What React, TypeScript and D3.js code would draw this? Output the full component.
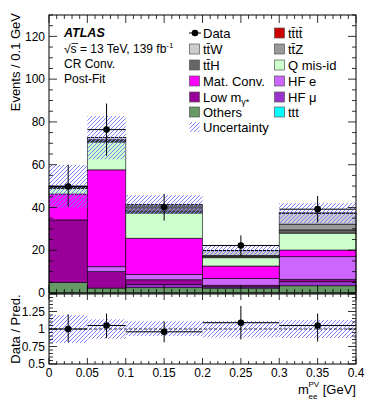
import React from "react";
import * as d3 from "d3";

// bin edges in m_ee^PV [GeV]
const binEdges = [0, 0.05, 0.1, 0.2, 0.3, 0.4];

// stacked backgrounds, events / 0.1 GeV (bottom to top)
const others = [4.9, 2.3, 2.5, 2.3, 3.4];
const hfMu = [0, 0, 1.4, 0.6, 1.9];
const lowMgamma = [29.3, 7.7, 2.3, 0.7, 1.1];
const hfE = [0, 2.3, 2.5, 3.2, 10.6];
const matConv = [12.1, 45.3, 16.9, 5.8, 3.1];
const qMisId = [2.5, 13.0, 11.8, 3.9, 7.9];
const ttH = [0.5, 0.6, 1.0, 0.6, 1.5];
const ttZ = [0.4, 0.5, 1.0, 0.5, 2.7];
const ttW = [0.3, 1.0, 1.8, 2.2, 5.1];
const tttt = [0.02, 0.03, 0.05, 0.05, 0.1];
const ttt = [0, 0, 0.01, 0.01, 0.02];

// relative uncertainty of the prediction
const uncRel = [0.2, 0.14, 0.11, 0.12, 0.13];

// data
const dataValues = [49.8, 76.4, 40.2, 22.2, 39.2];
const dataHigh = [60.0, 88.6, 46.4, 26.9, 45.4];
const dataLow = [40.3, 64.2, 33.9, 17.3, 33.0];

// ratio panel
const ratioValues = [1.0, 1.05, 0.96, 1.09, 1.05];
const ratioHigh = [1.21, 1.22, 1.11, 1.33, 1.22];
const ratioLow = [0.81, 0.87, 0.81, 0.85, 0.82];

const layers = [
  { key: "others", values: others, color: "#669966" },
  { key: "hfMu", values: hfMu, color: "#9933cc" },
  { key: "lowMgamma", values: lowMgamma, color: "#990099" },
  { key: "hfE", values: hfE, color: "#cc66ff" },
  { key: "matConv", values: matConv, color: "#ff00ff" },
  { key: "qMisId", values: qMisId, color: "#ccffcc" },
  { key: "ttH", values: ttH, color: "#666666" },
  { key: "ttZ", values: ttZ, color: "#999999" },
  { key: "ttW", values: ttW, color: "#cccccc" },
  { key: "tttt", values: tttt, color: "#cc0000" },
  { key: "ttt", values: ttt, color: "#00ffff" },
];

const font = "'Liberation Sans', Arial, Helvetica, sans-serif";
const hatchColor = "#8080ff";

const x = d3.scaleLinear().domain([0, 0.4]).range([49, 356]);
const y = d3.scaleLinear().domain([0, 130]).range([293, 15]);
const yr = d3.scaleLinear().domain([0.5, 1.5]).range([364, 294]);

const rows = dataValues.map((_, i) => {
  const r: any = {};
  layers.forEach((l) => (r[l.key] = l.values[i]));
  return r;
});
const stacked = d3.stack().keys(layers.map((l) => l.key))(rows);
const totals = rows.map((_, i) => stacked[stacked.length - 1][i][1]);

const fmt = d3.format("~g");
const tb = "t\u0304";

// hatch: "///" lines, 4px apart, clipped to the box
let clipCount = 0;
const Hatch = ({ x0, y0, w, h }: { x0: number; y0: number; w: number; h: number }) => {
  const step = 4;
  const segs: string[] = [];
  const bx = Math.round(x0);
  const by = Math.round(y0);
  const bh = Math.round(h);
  for (let k = -bh - (bx % step); k < w + bh; k += step) {
    segs.push(`M${bx + k},${by + bh}L${bx + k + bh},${by}`);
  }
  const id = `hclip${clipCount++}`;
  return (
    <g>
      <clipPath id={id}>
        <rect x={x0} y={y0} width={w} height={h} />
      </clipPath>
      <path
        d={segs.join("")}
        stroke={hatchColor}
        strokeWidth={1}
        fill="none"
        shapeRendering="crispEdges"
        clipPath={`url(#${id})`}
      />
    </g>
  );
};

export default function App() {
  clipCount = 0;
  const bins = dataValues.map((_, i) => ({ x0: binEdges[i], x1: binEdges[i + 1] }));

  const xTicks = d3.range(0, 41).map((i) => ({ v: i * 0.01, major: i % 5 === 0 }));
  const yTicks = d3.range(0, 27).map((i) => ({ v: i * 5, major: i % 4 === 0 }));
  const yrTicks = d3.range(0, 21).map((i) => ({ v: 0.5 + i * 0.05, major: i % 5 === 0 }));

  const x0 = x.range()[0];
  const x1 = x.range()[1];

  const legendLeft = [
    { label: <>{"t" + tb + "W"}</>, color: "#cccccc" },
    { label: <>{"t" + tb + "H"}</>, color: "#666666" },
    { label: <>Mat. Conv.</>, color: "#ff00ff" },
    {
      label: (
        <>
          Low m
          <tspan fontSize={9} dy={3}>
            γ*
          </tspan>
        </>
      ),
      color: "#990099",
    },
    { label: <>Others</>, color: "#669966" },
  ];
  const legendRight = [
    { label: <>{"t" + tb + "t" + tb}</>, color: "#cc0000" },
    { label: <>{"t" + tb + "Z"}</>, color: "#999999" },
    { label: <>Q mis-id</>, color: "#ccffcc" },
    { label: <>HF e</>, color: "#cc66ff" },
    { label: <>HF μ</>, color: "#9933cc" },
    { label: <>ttt</>, color: "#00ffff" },
  ];
  const rowY = [33, 49, 65, 81, 97, 112, 127];

  return (
    <svg
      width={374}
      height={407}
      style={{ position: "absolute", left: 0, top: 0, background: "#fff" }}
      fontFamily={font}
    >
      {/* stacked backgrounds */}
      {stacked.map((s, li) => (
        <g key={layers[li].key}>
          {s.map((d, i) =>
            d[1] - d[0] > 0.001 ? (
              <rect
                key={i}
                x={x(bins[i].x0)}
                y={y(d[1])}
                width={x(bins[i].x1) - x(bins[i].x0)}
                height={y(d[0]) - y(d[1])}
                fill={layers[li].color}
                stroke="#000"
                strokeOpacity={0.75}
                strokeWidth={0.8}
              />
            ) : null
          )}
        </g>
      ))}

      {/* uncertainty band */}
      {totals.map((t, i) => (
        <Hatch
          key={i}
          x0={x(bins[i].x0)}
          y0={y(t * (1 + uncRel[i]))}
          w={x(bins[i].x1) - x(bins[i].x0)}
          h={y(t * (1 - uncRel[i])) - y(t * (1 + uncRel[i]))}
        />
      ))}

      {/* data */}
      {dataValues.map((v, i) => {
        const cx = x((bins[i].x0 + bins[i].x1) / 2);
        return (
          <g key={i}>
            <line x1={x(bins[i].x0)} x2={x(bins[i].x1)} y1={y(v)} y2={y(v)} stroke="#000" strokeWidth={1} />
            <line x1={cx} x2={cx} y1={y(dataHigh[i])} y2={y(dataLow[i])} stroke="#000" strokeWidth={1} />
            <circle cx={cx} cy={y(v)} r={3.3} fill="#000" />
          </g>
        );
      })}

      {/* ratio panel */}
      {uncRel.map((u, i) => (
        <Hatch
          key={i}
          x0={x(bins[i].x0)}
          y0={yr(1 + u)}
          w={x(bins[i].x1) - x(bins[i].x0)}
          h={yr(1 - u) - yr(1 + u)}
        />
      ))}
      <line x1={x0} x2={x1} y1={yr(1)} y2={yr(1)} stroke="#000" strokeWidth={0.8} strokeDasharray="3,2" />
      {ratioValues.map((v, i) => {
        const cx = x((bins[i].x0 + bins[i].x1) / 2);
        return (
          <g key={i}>
            <line x1={x(bins[i].x0)} x2={x(bins[i].x1)} y1={yr(v)} y2={yr(v)} stroke="#000" strokeWidth={1} />
            <line x1={cx} x2={cx} y1={yr(ratioHigh[i])} y2={yr(ratioLow[i])} stroke="#000" strokeWidth={1} />
            <circle cx={cx} cy={yr(v)} r={3.3} fill="#000" />
          </g>
        );
      })}

      {/* frames */}
      <rect x={x0} y={y(130)} width={x1 - x0} height={y(0) - y(130)} fill="none" stroke="#000" strokeWidth={1} />
      <rect x={x0} y={yr(1.5)} width={x1 - x0} height={yr(0.5) - yr(1.5)} fill="none" stroke="#000" strokeWidth={1} />

      {/* x ticks */}
      {xTicks.map((t, i) => {
        const px = x(t.v);
        const lm = t.major ? 8 : 4;
        const lr = t.major ? 6 : 3;
        return (
          <g key={i} stroke="#000" strokeWidth={0.8}>
            <line x1={px} x2={px} y1={y(0)} y2={y(0) - lm} />
            <line x1={px} x2={px} y1={y(130)} y2={y(130) + lm} />
            <line x1={px} x2={px} y1={yr(0.5)} y2={yr(0.5) - lr} />
            <line x1={px} x2={px} y1={yr(1.5)} y2={yr(1.5) + lr} />
          </g>
        );
      })}
      {xTicks
        .filter((t) => t.major)
        .map((t, i) => (
          <text key={i} x={x(t.v)} y={377} textAnchor="middle" fontSize={12}>
            {fmt(+t.v.toFixed(2))}
          </text>
        ))}

      {/* main y ticks */}
      {yTicks.map((t, i) => {
        const py = y(t.v);
        const l = t.major ? 8 : 4;
        return (
          <g key={i} stroke="#000" strokeWidth={0.8}>
            <line x1={x0} x2={x0 + l} y1={py} y2={py} />
            <line x1={x1} x2={x1 - l} y1={py} y2={py} />
          </g>
        );
      })}
      {yTicks
        .filter((t) => t.major)
        .map((t, i) => (
          <text key={i} x={45} y={y(t.v)} dy="0.35em" textAnchor="end" fontSize={12}>
            {t.v}
          </text>
        ))}

      {/* ratio y ticks */}
      {yrTicks.map((t, i) => {
        const py = yr(t.v);
        const l = t.major ? 8 : 4;
        return (
          <g key={i} stroke="#000" strokeWidth={0.8}>
            <line x1={x0} x2={x0 + l} y1={py} y2={py} />
            <line x1={x1} x2={x1 - l} y1={py} y2={py} />
          </g>
        );
      })}
      {yrTicks
        .filter((t) => t.major && t.v < 1.4)
        .map((t, i) => (
          <text key={i} x={45} y={yr(t.v)} dy="0.35em" textAnchor="end" fontSize={12}>
            {fmt(+t.v.toFixed(2))}
          </text>
        ))}

      {/* axis titles */}
      <text transform="translate(20,13) rotate(-90)" textAnchor="end" fontSize={13}>
        Events / 0.1 GeV
      </text>
      <text transform={`translate(20,${yr(1)}) rotate(-90)`} textAnchor="middle" fontSize={13}>
        Data / Pred.
      </text>
      <text x={298} y={394} fontSize={13}>
        m
      </text>
      <text x={308.5} y={387} fontSize={8}>
        PV
      </text>
      <text x={308.5} y={399} fontSize={8}>
        ee
      </text>
      <text x={356} y={394} textAnchor="end" fontSize={13}>
        [GeV]
      </text>

      {/* labels */}
      <text x={64} y={37} fontSize={12.5} fontWeight="bold" fontStyle="italic">
        ATLAS
      </text>
      <text x={64} y={53} fontSize={12}>
        √s = 13 TeV, 139 fb
        <tspan fontSize={8} dy={-5}>
          -1
        </tspan>
      </text>
      <line x1={71.5} x2={78} y1={43.5} y2={43.5} stroke="#000" strokeWidth={0.8} />
      <text x={64} y={68} fontSize={12}>
        CR Conv.
      </text>
      <text x={64} y={83} fontSize={12}>
        Post-Fit
      </text>

      {/* legend */}
      <g fontSize={13}>
        <line x1={189} x2={201} y1={rowY[0]} y2={rowY[0]} stroke="#000" strokeWidth={1} />
        <circle cx={195} cy={rowY[0]} r={3.3} fill="#000" />
        <text x={203} y={rowY[0]} dy="0.35em">
          Data
        </text>
        {legendLeft.map((e, i) => (
          <g key={i}>
            <rect x={189.5} y={rowY[i + 1] - 5} width={10} height={10} fill={e.color} stroke="#555" strokeWidth={0.7} />
            <text x={203} y={rowY[i + 1]} dy="0.35em">
              {e.label}
            </text>
          </g>
        ))}
        <Hatch x0={189.5} y0={rowY[6] - 5} w={10} h={10} />
        <text x={203} y={rowY[6]} dy="0.35em">
          Uncertainty
        </text>
        {legendRight.map((e, i) => (
          <g key={i}>
            <rect x={274.5} y={rowY[i] - 5} width={10} height={10} fill={e.color} stroke="#555" strokeWidth={0.7} />
            <text x={288} y={rowY[i]} dy="0.35em">
              {e.label}
            </text>
          </g>
        ))}
      </g>
    </svg>
  );
}
